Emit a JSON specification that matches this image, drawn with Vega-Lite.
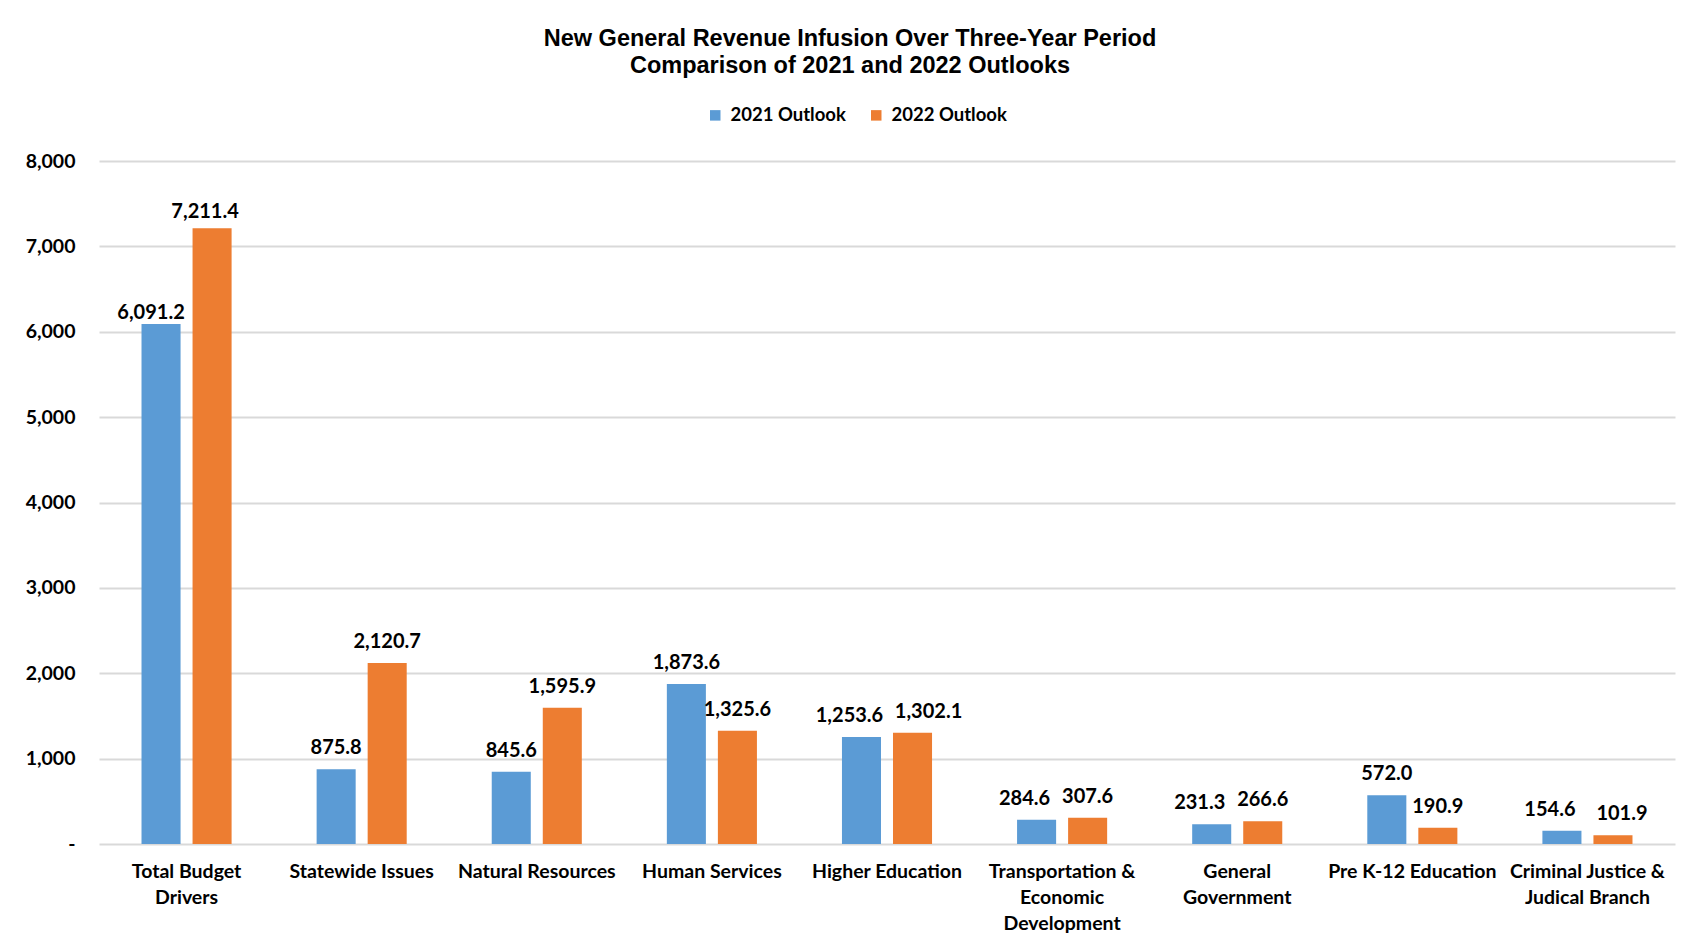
{
  "$schema": "https://vega.github.io/schema/vega-lite/v6.json",
  "autosize": {"type": "none"},
  "width": 1576,
  "height": 683,
  "padding": {"left": 99, "top": 161, "right": 26, "bottom": 106},
  "background": "white",
  "title": {
    "text": ["New  General Revenue Infusion Over Three-Year Period", "Comparison of 2021 and 2022 Outlooks"],
    "font": "Liberation Sans",
    "fontSize": 23.5,
    "fontWeight": "bold",
    "color": "#000000",
    "lineHeight": 27,
    "anchor": "middle",
    "frame": "group",
    "dx": -37,
    "offset": 29
  },
  "data": {
    "values": [
      {"category": "Total Budget|Drivers", "series": "2021 Outlook", "value": 6091.2},
      {"category": "Total Budget|Drivers", "series": "2022 Outlook", "value": 7211.4},
      {"category": "Statewide Issues", "series": "2021 Outlook", "value": 875.8},
      {"category": "Statewide Issues", "series": "2022 Outlook", "value": 2120.7},
      {"category": "Natural Resources", "series": "2021 Outlook", "value": 845.6},
      {"category": "Natural Resources", "series": "2022 Outlook", "value": 1595.9},
      {"category": "Human Services", "series": "2021 Outlook", "value": 1873.6},
      {"category": "Human Services", "series": "2022 Outlook", "value": 1325.6},
      {"category": "Higher Education", "series": "2021 Outlook", "value": 1253.6},
      {"category": "Higher Education", "series": "2022 Outlook", "value": 1302.1},
      {"category": "Transportation &|Economic|Development", "series": "2021 Outlook", "value": 284.6},
      {"category": "Transportation &|Economic|Development", "series": "2022 Outlook", "value": 307.6},
      {"category": "General|Government", "series": "2021 Outlook", "value": 231.3},
      {"category": "General|Government", "series": "2022 Outlook", "value": 266.6},
      {"category": "Pre K-12 Education", "series": "2021 Outlook", "value": 572.0},
      {"category": "Pre K-12 Education", "series": "2022 Outlook", "value": 190.9},
      {"category": "Criminal Justice &|Judical Branch", "series": "2021 Outlook", "value": 154.6},
      {"category": "Criminal Justice &|Judical Branch", "series": "2022 Outlook", "value": 101.9}
    ]
  },
  "encoding": {
    "x": {
      "field": "category",
      "type": "nominal",
      "sort": null,
      "title": null,
      "scale": {"paddingInner": 0, "paddingOuter": 0},
      "axis": {
        "labelExpr": "split(datum.label, '|')",
        "labelAngle": 0,
        "labelFont": "Lato",
        "labelFontSize": 19.5,
        "labelFontWeight": "bold",
        "labelColor": "#000000",
        "labelLineHeight": 26,
        "labelPadding": 18,
        "labelLimit": 300,
        "labelBaseline": "top",
        "ticks": false,
        "domain": false
      }
    },
    "xOffset": {
      "field": "series",
      "type": "nominal",
      "scale": {"paddingInner": 0.235, "paddingOuter": 0.833}
    },
    "y": {
      "field": "value",
      "type": "quantitative",
      "title": null,
      "scale": {"domain": [0, 8000], "nice": false},
      "axis": {
        "values": [0, 1000, 2000, 3000, 4000, 5000, 6000, 7000, 8000],
        "labelExpr": "datum.value == 0 ? '-' : format(datum.value, ',')",
        "labelFont": "Lato",
        "labelFontSize": 19.5,
        "labelFontWeight": "bold",
        "labelColor": "#000000",
        "labelPadding": 24,
        "ticks": false,
        "domain": false,
        "grid": true,
        "gridColor": "#d9d9d9",
        "gridWidth": 2
      }
    }
  },
  "layer": [
    {
      "mark": {"type": "bar"},
      "encoding": {
        "color": {
          "field": "series",
          "type": "nominal",
          "scale": {"domain": ["2021 Outlook", "2022 Outlook"], "range": ["#5B9BD5", "#ED7D31"]},
          "legend": {
            "title": null,
            "orient": "none",
            "direction": "horizontal",
            "legendX": 607,
            "legendY": -55,
            "symbolType": "square",
            "symbolSize": 110,
            "symbolStrokeWidth": 0,
            "labelFont": "Lato",
            "labelFontSize": 18.5,
            "labelFontWeight": "bold",
            "labelColor": "#000000",
            "columnPadding": 21,
            "labelOffset": 6
          }
        }
      }
    },
    {
      "transform": [{"filter": "indexof(['Total Budget|Drivers', 'Higher Education'], datum.category) < 0 && !(datum.series == '2021 Outlook' && indexof(['Transportation &|Economic|Development', 'General|Government', 'Criminal Justice &|Judical Branch'], datum.category) >= 0) && !(datum.series == '2022 Outlook' && datum.category == 'Criminal Justice &|Judical Branch')"}],
      "mark": {"type": "text", "baseline": "middle", "dy": -21, "font": "Lato", "fontSize": 20, "fontWeight": "bold", "color": "#000000"},
      "encoding": {
        "text": {"field": "value", "type": "quantitative", "format": ",.1f"}
      }
    },
    {
      "transform": [{"filter": "datum.category == 'Total Budget|Drivers' && datum.series == '2021 Outlook'"}],
      "mark": {"type": "text", "baseline": "middle", "dy": -11, "dx": -10, "font": "Lato", "fontSize": 20, "fontWeight": "bold", "color": "#000000"},
      "encoding": {
        "text": {"field": "value", "type": "quantitative", "format": ",.1f"}
      }
    },
    {
      "transform": [{"filter": "datum.category == 'Total Budget|Drivers' && datum.series == '2022 Outlook'"}],
      "mark": {"type": "text", "baseline": "middle", "dy": -16, "dx": -7, "font": "Lato", "fontSize": 20, "fontWeight": "bold", "color": "#000000"},
      "encoding": {
        "text": {"field": "value", "type": "quantitative", "format": ",.1f"}
      }
    },
    {
      "transform": [{"filter": "datum.series == '2021 Outlook' && indexof(['Higher Education', 'Transportation &|Economic|Development', 'General|Government', 'Criminal Justice &|Judical Branch'], datum.category) >= 0"}],
      "mark": {"type": "text", "baseline": "middle", "dy": -21, "dx": -12, "font": "Lato", "fontSize": 20, "fontWeight": "bold", "color": "#000000"},
      "encoding": {
        "text": {"field": "value", "type": "quantitative", "format": ",.1f"}
      }
    },
    {
      "transform": [{"filter": "datum.category == 'Higher Education' && datum.series == '2022 Outlook'"}],
      "mark": {"type": "text", "baseline": "middle", "dy": -21, "dx": 16, "font": "Lato", "fontSize": 20, "fontWeight": "bold", "color": "#000000"},
      "encoding": {
        "text": {"field": "value", "type": "quantitative", "format": ",.1f"}
      }
    },
    {
      "transform": [{"filter": "datum.category == 'Criminal Justice &|Judical Branch' && datum.series == '2022 Outlook'"}],
      "mark": {"type": "text", "baseline": "middle", "dy": -21, "dx": 9, "font": "Lato", "fontSize": 20, "fontWeight": "bold", "color": "#000000"},
      "encoding": {
        "text": {"field": "value", "type": "quantitative", "format": ",.1f"}
      }
    }
  ],
  "config": {
    "view": {"stroke": null}
  }
}
